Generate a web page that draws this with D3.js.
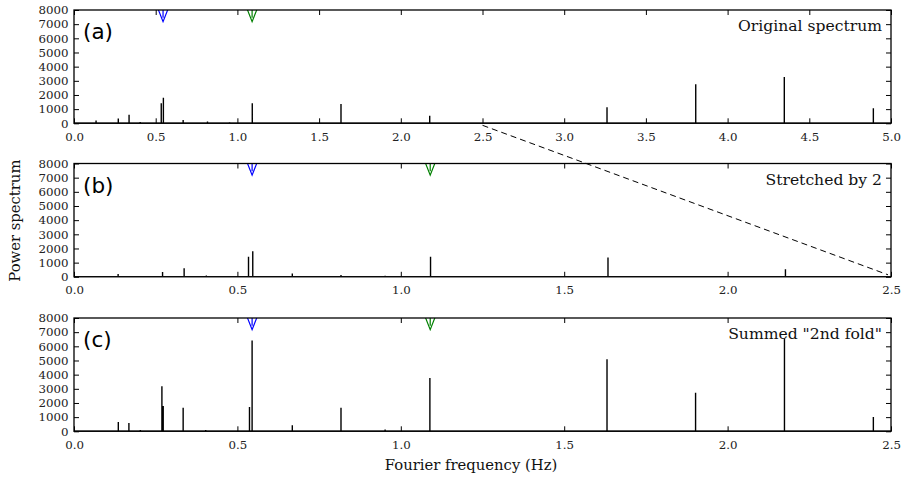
<!DOCTYPE html>
<html>
<head>
<meta charset="utf-8">
<script src="https://cdn.jsdelivr.net/npm/d3@7"></script>
<style>
  html, body { margin: 0; padding: 0; background: #fff; }
  svg { display: block; }
  .tick text { font-family: "DejaVu Serif", serif; font-size: 11.8px; fill: #222; }
</style>
</head>
<body>
<svg id="chart" width="902" height="480"></svg>
<script>
// ---------------- DATA ----------------
// Original spectrum: spike frequencies (Hz) and powers
const origFreq  = [0.135, 0.271, 0.337, 0.405, 0.534, 0.547, 0.668, 0.817, 0.952, 1.091, 1.634, 2.177, 3.262, 3.805, 4.347, 4.892];
const origPower = [200,   340,   600,   90,    1420,  1800,  230,   120,   70,    1410,  1360,  540,   1130,  2750,  3270,  1060];
// Summed "2nd fold" spectrum
const foldFreq  = [0.1356, 0.168, 0.203, 0.269, 0.273, 0.334, 0.403, 0.537, 0.545, 0.668, 0.817, 0.952, 1.089, 1.359, 1.631, 1.676, 1.902, 2.174, 2.446];
const foldPower = [660,    590,   100,   3180,  1790,  1670,  100,   1715,  6420,  420,   1670,  120,   3760,  60,    5080,  50,    2730,  6545,  1010];
// Marker frequencies (blue, green) and their level
const markerFreq   = [0.545, 1.09];
const markerColor  = ["#0000ff", "#008000"];
const markerLevel  = 7600;
// Panels
const panelLetters = ["(a)", "(b)", "(c)"];
const panelTitles  = ["Original spectrum", "Stretched by 2", "Summed \"2nd fold\""];
const panelXMax    = [5, 2.5, 2.5];
const xTicksA  = [0, 0.5, 1, 1.5, 2, 2.5, 3, 3.5, 4, 4.5, 5];
const xTicksBC = [0, 0.5, 1, 1.5, 2, 2.5];
const yTicks   = [0, 1000, 2000, 3000, 4000, 5000, 6000, 7000, 8000];
const yMax = 8000;
const xLabel = "Fourier frequency (Hz)";
const yLabel = "Power spectrum";

// ---------------- LAYOUT ----------------
const svg = d3.select("#chart");
const left = 74, right = 891;
const tops = [10, 163.5, 318];
const ph = 113.3;

const panels = [
  { f: origFreq, p: origPower, ticks: xTicksA },
  { f: origFreq.filter(d => d <= 2.5), p: origPower.filter((d, i) => origFreq[i] <= 2.5), ticks: xTicksBC },
  { f: foldFreq, p: foldPower, ticks: xTicksBC }
];

const scales = [];

panels.forEach((pd, k) => {
  const top = tops[k];
  const x = d3.scaleLinear().domain([0, panelXMax[k]]).range([left, right]);
  const y = d3.scaleLinear().domain([0, yMax]).range([top + ph, top]);
  scales.push({ x, y });

  const clipId = "clip" + k;
  svg.append("clipPath").attr("id", clipId)
    .append("rect").attr("x", left).attr("y", top).attr("width", right - left).attr("height", ph);

  const g = svg.append("g");

  // spectrum line
  const pts = [[0, 0]];
  pd.f.map((f, i) => [f, pd.p[i]]).sort((a, b) => a[0] - b[0]).forEach(([f, v]) => {
    pts.push([f, 0], [f, v], [f, 0]);
  });
  pts.push([panelXMax[k], 0]);
  g.append("path")
    .attr("clip-path", `url(#${clipId})`)
    .attr("d", d3.line().x(d => x(d[0])).y(d => y(d[1]))(pts))
    .attr("fill", "none").attr("stroke", "#000").attr("stroke-width", 1.4);

  // markers
  markerFreq.forEach((mf, i) => {
    const cx = x(mf), cy = y(markerLevel);
    const mg = g.append("g").attr("clip-path", `url(#${clipId})`);
    mg.append("path")
      .attr("d", `M${cx - 5.5},${cy - 8} L${cx + 5.5},${cy - 8} L${cx},${cy + 6} Z`)
      .attr("fill", "none").attr("stroke", markerColor[i]).attr("stroke-width", 1.2);
    mg.append("line")
      .attr("x1", cx).attr("x2", cx).attr("y1", cy - 8).attr("y2", cy + 2)
      .attr("stroke", markerColor[i]).attr("stroke-width", 1.2);
  });

  // axes (ticks inward, on all four sides)
  const fmt = d3.format(".1f");
  g.append("g").attr("class", "tick-x")
    .attr("transform", `translate(0,${top + ph})`)
    .call(d3.axisBottom(x).tickValues(pd.ticks).tickFormat(fmt).tickSizeInner(-5).tickSizeOuter(0).tickPadding(9))
    .call(a => a.select(".domain").remove());
  g.append("g")
    .attr("transform", `translate(0,${top})`)
    .call(d3.axisTop(x).tickValues(pd.ticks).tickFormat("").tickSizeInner(-5).tickSizeOuter(0))
    .call(a => a.select(".domain").remove());
  g.append("g")
    .attr("transform", `translate(${left},0)`)
    .call(d3.axisLeft(y).tickValues(yTicks).tickFormat(d3.format("d")).tickSizeInner(-5).tickSizeOuter(0).tickPadding(5.5))
    .call(a => a.select(".domain").remove());
  g.append("g")
    .attr("transform", `translate(${right},0)`)
    .call(d3.axisRight(y).tickValues(yTicks).tickFormat("").tickSizeInner(-5).tickSizeOuter(0))
    .call(a => a.select(".domain").remove());
  g.selectAll(".tick line").attr("stroke", "#000").attr("stroke-width", 1);

  // frame
  g.append("rect").attr("x", left).attr("y", top).attr("width", right - left).attr("height", ph)
    .attr("fill", "none").attr("stroke", "#000").attr("stroke-width", 1.3);

  // panel letter
  g.append("text").attr("x", 83).attr("y", top + 29)
    .attr("font-family", "DejaVu Sans, sans-serif").attr("font-size", 21.5).attr("fill", "#000")
    .text(panelLetters[k]);
  // title
  g.append("text").attr("x", 882).attr("y", top + 21).attr("text-anchor", "end")
    .attr("font-family", "DejaVu Serif, serif").attr("font-size", 15.6).attr("fill", "#111")
    .text(panelTitles[k]);
});

// dashed connector: panel (a) 2.5 Hz at zero -> panel (b) 2.5 Hz at zero
svg.append("line")
  .attr("x1", scales[0].x(2.5)).attr("y1", scales[0].y(0) + 2)
  .attr("x2", scales[1].x(2.5) - 3).attr("y2", scales[1].y(0) - 2)
  .attr("stroke", "#000").attr("stroke-width", 1).attr("stroke-dasharray", "6,4");

// axis labels
svg.append("text").attr("x", 471).attr("y", 470).attr("text-anchor", "middle")
  .attr("font-family", "DejaVu Serif, serif").attr("font-size", 14.8).attr("fill", "#111")
  .text(xLabel);
svg.append("text").attr("transform", `translate(20,${(tops[0] + tops[2] + ph) / 2}) rotate(-90)`)
  .attr("text-anchor", "middle")
  .attr("font-family", "DejaVu Serif, serif").attr("font-size", 14.8).attr("fill", "#111")
  .text(yLabel);
</script>
</body>
</html>
